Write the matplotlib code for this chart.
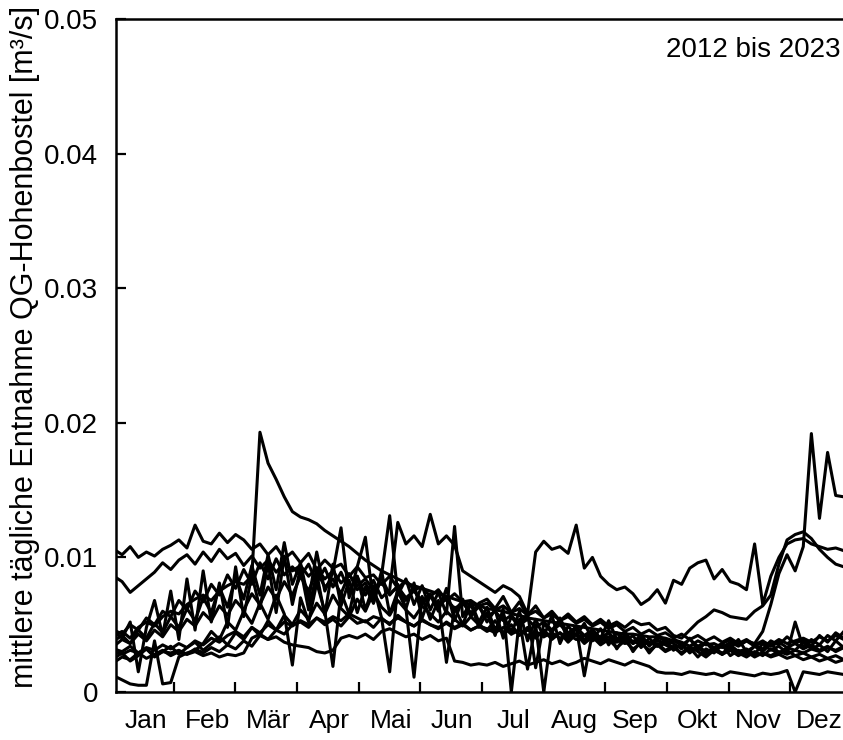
import numpy as np
import matplotlib.pyplot as plt

plt.rcParams['font.family'] = ['Liberation Sans', 'DejaVu Sans']

# day of year, every 4th day (92 samples per year)
DAYS = np.arange(1, 366, 4)
MONTHS = ['Jan', 'Feb', 'Mär', 'Apr', 'Mai', 'Jun', 'Jul', 'Aug', 'Sep', 'Okt', 'Nov', 'Dez']
YEAR_TEXT = '2012 bis 2023'

# mean daily withdrawal in l/s (= 1e-3 m3/s)
Q_2012 = [10.6, 10.2, 10.8, 10.0, 10.4, 10.1, 10.6, 10.9, 11.3, 10.7, 12.4, 11.2, 11.0, 11.8, 11.1, 11.7, 11.3, 10.6, 11.0, 10.2, 10.8, 9.9, 10.4,
          9.6, 10.3, 9.1, 9.8, 9.2, 9.5, 8.6, 9.3, 8.5, 8.7, 8.0, 8.6, 7.7, 8.3, 7.6, 7.8, 7.1, 7.6, 6.8, 7.3, 6.7, 6.8, 6.4,
          6.6, 6.1, 6.4, 5.9, 6.2, 5.7, 6.0, 5.5, 5.8, 5.3, 5.6, 5.1, 5.4, 4.9, 5.2, 4.7, 5.0, 4.5, 4.8, 4.3, 4.6, 4.2, 4.4,
          4.0, 4.3, 3.9, 4.2, 3.8, 4.1, 3.7, 4.0, 3.6, 3.9, 3.5, 3.8, 3.4, 3.7, 3.3, 3.6, 3.2, 3.5, 3.1, 3.4, 3.0, 3.3, 3.1]
Q_2013 = [1.2, 0.9, 0.6, 0.5, 0.5, 3.8, 0.6, 0.7, 2.6, 2.9, 3.1, 3.6, 4.5, 3.9, 5.2, 4.6, 6.0, 5.1, 6.6, 5.4, 7.2, 5.8, 2.0,
          7.0, 5.2, 8.1, 6.0, 1.9, 7.4, 5.8, 8.6, 6.1, 7.9, 5.5, 1.5, 8.0, 6.2, 1.1, 7.1, 5.4, 6.8, 2.2, 6.3, 5.0, 6.6, 4.8,
          5.9, 4.2, 6.2, 0.0, 5.4, 1.7, 5.0, 0.0, 4.6, 5.3, 3.9, 4.8, 1.2, 4.4, 3.6, 4.5, 3.2, 4.1, 3.0, 3.8, 2.9, 3.6, 3.1,
          3.4, 2.8, 3.3, 2.6, 3.2, 2.9, 3.5, 2.7, 3.1, 2.8, 3.4, 3.0, 3.6, 2.9, 3.3, 3.1, 3.7, 3.2, 3.5, 3.0, 3.8, 3.3, 3.6]
Q_2014 = [8.6, 8.2, 7.4, 7.9, 8.4, 8.9, 9.6, 9.1, 9.8, 10.2, 9.5, 10.4, 9.7, 10.6, 9.9, 10.3, 9.4, 10.1, 9.2, 9.8, 8.9, 9.6, 9.0,
          9.4, 8.6, 9.2, 8.4, 9.0, 8.1, 8.7, 7.9, 8.4, 7.6, 8.1, 7.3, 7.8, 7.0, 7.5, 6.8, 7.2, 6.5, 6.9, 6.2, 6.6, 5.9, 6.3,
          5.6, 6.0, 5.3, 5.7, 5.0, 5.4, 4.8, 5.2, 4.6, 5.0, 4.4, 4.8, 4.2, 4.6, 4.0, 4.4, 3.8, 4.2, 3.7, 4.0, 3.6, 3.9, 3.5,
          3.2, 3.5, 3.0, 3.3, 2.9, 3.2, 2.8, 3.1, 2.7, 3.0, 2.6, 2.9, 2.7, 3.0, 2.8, 3.1, 2.9, 3.2, 3.0, 3.3, 3.1, 3.4, 3.2]
Q_2015 = [4.5, 4.0, 5.2, 1.5, 4.8, 6.8, 4.2, 7.5, 3.9, 8.4, 4.6, 9.0, 5.2, 8.1, 4.8, 9.3, 5.6, 8.7, 6.2, 9.6, 5.9, 10.1, 6.5,
          9.2, 6.1, 8.8, 5.7, 9.5, 6.4, 8.3, 5.9, 7.8, 6.6, 9.0, 5.8, 7.5, 6.2, 8.1, 5.5, 7.2, 6.0, 7.7, 5.3, 6.9, 5.6, 6.4,
          5.2, 6.1, 4.0, 5.6, 4.8, 5.9, 1.8, 5.1, 4.4, 5.5, 4.2, 4.9, 3.8, 4.6, 4.0, 5.3, 3.9, 4.5, 3.6, 4.3, 3.4, 4.1, 3.8,
          3.6, 3.2, 4.0, 3.1, 3.7, 3.0, 3.5, 3.3, 3.9, 3.0, 3.4, 3.2, 3.8, 3.5, 4.1, 3.6, 3.9, 3.4, 4.2, 3.7, 4.4, 4.0, 4.3]
Q_2016 = [3.0, 2.8, 3.1, 2.9, 3.2, 2.7, 3.0, 2.9, 3.1, 2.8, 3.0, 2.7, 2.9, 2.6, 2.8, 2.7, 2.9, 4.0, 4.3, 3.9, 4.1, 3.7, 3.5,
          3.4, 3.3, 3.0, 2.9, 3.1, 4.0, 4.2, 4.0, 4.3, 3.9, 4.5, 4.7, 4.4, 4.1, 4.3, 3.9, 4.2, 3.8, 4.0, 2.3, 2.2, 2.0, 2.1,
          2.0, 2.2, 1.9, 2.1, 2.3, 2.0, 2.2, 2.4, 2.1, 2.3, 2.0, 2.2, 2.5, 2.3, 2.1, 2.4, 2.2, 2.0, 2.3, 2.1, 1.9, 1.5, 1.4,
          1.4, 1.3, 1.5, 1.4, 1.3, 1.4, 1.2, 1.5, 1.4, 1.3, 1.2, 1.4, 1.3, 1.4, 1.6, 0.0, 1.5, 1.4, 1.3, 1.5, 1.4, 1.3, 1.4]
Q_2017 = [2.5, 2.9, 2.3, 2.7, 3.2, 2.6, 3.0, 3.4, 2.8, 3.3, 3.7, 3.1, 3.6, 4.1, 3.5, 4.4, 3.9, 4.8, 4.2, 5.3, 4.6, 5.7, 5.0,
          6.1, 5.4, 6.6, 5.8, 7.2, 6.2, 5.6, 6.9, 6.0, 7.4, 6.3, 5.7, 6.8, 6.1, 5.5, 6.4, 5.8, 5.2, 6.0, 5.4, 4.9, 5.6, 5.0,
          4.6, 5.3, 4.4, 5.0, 4.2, 4.8, 4.0, 4.6, 3.9, 4.4, 3.7, 4.3, 3.6, 4.1, 3.5, 3.9, 3.3, 3.8, 3.2, 3.6, 3.1, 3.5, 3.0,
          3.3, 2.9, 3.4, 3.0, 2.6, 3.1, 2.8, 3.3, 2.9, 2.6, 3.0, 2.7, 3.2, 2.8, 3.1, 2.7, 2.9, 2.6, 2.8, 2.5, 2.7, 2.4, 2.6]
Q_2018 = [4.2, 4.5, 4.0, 4.8, 5.2, 4.9, 5.6, 6.0, 5.8, 6.5, 6.9, 7.2, 6.8, 7.5, 7.9, 8.2, 8.0, 8.6, 19.3, 17.0, 15.8, 14.5, 13.4,
          13.0, 12.8, 12.5, 12.0, 11.6, 11.2, 10.8, 10.3, 9.8, 9.4, 9.0, 8.7, 8.4, 8.1, 7.9, 7.7, 7.5, 7.3, 7.1, 6.9, 6.7, 6.5, 6.4,
          6.2, 6.1, 6.0, 5.8, 5.7, 5.5, 5.4, 5.3, 5.2, 5.1, 5.0, 4.9, 4.8, 4.7, 4.6, 4.5, 4.4, 4.3, 4.3, 4.2, 4.1, 4.1, 4.0,
          3.8, 3.5, 3.9, 3.4, 3.7, 3.3, 3.6, 3.9, 3.5, 3.8, 3.4, 3.7, 3.5, 3.9, 3.6, 3.8, 4.0, 3.7, 4.1, 3.8, 4.2, 3.9, 4.1]
Q_2019 = [3.8, 4.2, 3.6, 4.6, 4.0, 5.1, 4.4, 5.6, 4.8, 6.2, 5.3, 7.0, 5.9, 7.8, 6.3, 8.6, 6.9, 9.4, 7.2, 10.2, 7.6, 11.1, 8.0,
          9.6, 6.8, 10.4, 7.5, 8.9, 12.2, 7.0, 9.3, 11.5, 6.6, 8.7, 13.1, 7.2, 8.4, 6.5, 7.9, 6.1, 7.4, 5.8, 12.3, 5.6, 6.7, 5.2,
          6.3, 4.6, 5.8, 4.3, 6.0, 3.8, 5.4, 4.1, 5.7, 3.6, 4.9, 4.2, 5.1, 3.9, 4.7, 3.5, 4.4, 3.7, 4.2, 3.3, 4.0, 3.4, 3.9,
          3.1, 3.6, 2.9, 3.4, 2.7, 3.3, 2.8, 3.5, 3.0, 3.2, 2.8, 3.6, 3.1, 3.4, 2.9, 5.2, 3.3, 3.9, 3.5, 4.2, 3.8, 4.5, 4.3]
Q_2020 = [2.2, 2.6, 2.4, 2.9, 2.5, 2.8, 3.1, 2.7, 3.0, 2.8, 3.2, 2.9, 3.3, 3.0, 3.5, 3.2, 3.8, 3.4, 4.2, 3.9, 4.6, 4.3, 5.0,
          5.2, 4.8, 5.5, 5.0, 5.4, 4.9, 5.6, 5.1, 5.3, 4.8, 5.5, 5.0, 5.7, 5.2, 4.9, 5.4, 5.0, 4.7, 5.2, 4.8, 5.1, 4.6, 4.9,
          4.7, 4.4, 4.8, 4.3, 4.6, 4.2, 4.5, 4.1, 4.4, 4.0, 4.3, 3.9, 4.2, 3.8, 4.1, 3.7, 3.9, 3.6, 3.8, 3.5, 3.7, 3.4, 3.6,
          3.3, 3.5, 3.1, 3.4, 3.0, 3.2, 2.9, 3.1, 2.8, 3.0, 2.7, 2.9, 2.6, 2.8, 2.5, 2.7, 2.4, 2.6, 2.3, 2.5, 2.2, 2.4, 2.3]
Q_2021 = [3.4, 3.9, 3.6, 4.3, 3.8, 4.6, 4.1, 5.0, 4.5, 5.4, 4.9, 5.9, 5.3, 6.4, 5.7, 6.8, 6.1, 7.3, 6.5, 7.8, 6.9, 8.2, 7.2,
          8.6, 7.5, 9.0, 7.8, 8.4, 7.3, 8.8, 7.6, 8.1, 7.0, 8.5, 7.2, 7.9, 6.8, 7.6, 6.5, 7.3, 6.3, 7.0, 6.0, 6.8, 5.8, 6.6,
          6.9, 6.2, 7.1, 5.9, 6.7, 5.7, 6.4, 5.5, 6.0, 5.3, 5.8, 5.2, 5.6, 5.0, 5.4, 4.9, 5.2, 4.8, 5.3, 5.0, 5.1, 4.6, 4.8,
          4.2, 4.0, 4.6, 5.2, 5.6, 6.1, 5.9, 5.6, 5.5, 5.4, 6.0, 6.4, 7.2, 9.5, 11.3, 11.7, 11.9, 11.4, 10.6, 10.0, 9.5, 9.3, 9.2]
Q_2022 = [4.6, 4.3, 5.0, 4.6, 5.5, 5.0, 6.0, 5.6, 6.8, 6.1, 7.5, 6.7, 8.0, 7.2, 8.7, 7.7, 9.1, 8.0, 9.6, 8.4, 9.9, 8.7, 9.3,
          8.6, 9.5, 8.1, 9.2, 7.8, 8.9, 7.5, 8.6, 7.2, 8.3, 7.0, 7.6, 12.6, 11.0, 11.6, 10.8, 13.2, 11.0, 11.6, 10.9, 9.0, 8.6, 8.2,
          7.8, 7.4, 7.9, 7.6, 7.1, 5.8, 10.4, 11.2, 10.6, 10.8, 10.3, 12.4, 9.2, 10.0, 8.6, 8.0, 7.6, 7.8, 7.3, 6.5, 6.9, 7.6, 6.6,
          8.3, 8.0, 9.2, 9.6, 9.8, 8.4, 9.1, 8.2, 8.0, 7.6, 11.0, 6.5, 8.6, 10.0, 11.0, 11.3, 11.4, 11.0, 10.8, 10.6, 10.7, 10.5, 10.5]
Q_2023 = [3.2, 3.0, 3.4, 2.9, 3.3, 3.1, 3.5, 3.2, 3.6, 3.3, 3.8, 3.5, 4.0, 3.7, 4.2, 4.5, 4.1, 4.8, 4.4, 5.0, 4.6, 5.2, 4.9,
          5.3, 5.0, 5.5, 5.2, 5.6, 5.3, 5.8, 5.5, 5.2, 5.6, 5.4, 5.1, 5.5, 5.2, 4.9, 5.3, 5.0, 4.8, 5.1, 4.7, 5.0, 4.6, 4.9,
          4.5, 4.8, 4.4, 4.7, 4.3, 4.6, 4.2, 4.5, 4.1, 4.4, 4.0, 4.3, 3.9, 4.2, 3.8, 4.1, 3.7, 4.0, 3.6, 3.9, 3.5, 3.8, 3.6,
          3.9, 3.7, 3.4, 3.8, 3.5, 3.6, 3.3, 3.7, 3.4, 3.8, 3.6, 4.5, 6.5, 8.8, 10.2, 9.0, 10.8, 19.2, 12.9, 17.8, 14.6, 14.5, 14.5]

SERIES = [Q_2012, Q_2013, Q_2014, Q_2015, Q_2016, Q_2017,
          Q_2018, Q_2019, Q_2020, Q_2021, Q_2022, Q_2023]

FS = 20

fig = plt.figure(figsize=(8.43, 7.4), dpi=100)
# axes runs a bit past the right edge of the picture, like the reference
ax = fig.add_axes([116 / 843, 48 / 740, 742 / 843, 673 / 740])

for q in SERIES:
    ax.plot(DAYS, np.array(q) / 1000.0, color='black', lw=2.2)

ax.set_xlim(2, 368)
ax.set_ylim(0, 0.05)

step = 365 / 12
ax.set_xticks([step * k for k in range(1, 12)])
ax.set_xticklabels([])
# month names sit between the ticks
ax.set_xticks([16.8 + 30.19 * k for k in range(12)], minor=True)
ax.set_xticklabels(MONTHS, minor=True, fontsize=19)
ax.tick_params(axis='x', which='major', direction='in', length=7, width=1.6)
ax.tick_params(axis='x', which='minor', length=0, pad=12)

ax.set_yticks([0, 0.01, 0.02, 0.03, 0.04, 0.05])
ax.set_yticklabels(['0', '0.01', '0.02', '0.03', '0.04', '0.05'], fontsize=FS)
ax.tick_params(axis='y', direction='in', length=7, width=1.6, pad=13)

for side in ['left', 'bottom', 'top']:
    ax.spines[side].set_linewidth(1.8)
ax.spines['right'].set_visible(False)

ax.set_ylabel('mittlere tägliche Entnahme QG-Hohenbostel [m³/s]', fontsize=22, loc='bottom')
ax.yaxis.set_label_coords((40 - 116) / 742, 4 / 673)

fig.text(840 / 843, 1 - 57 / 740, YEAR_TEXT, ha='right', va='baseline', fontsize=FS)

fig.savefig('out.png', dpi=100)
